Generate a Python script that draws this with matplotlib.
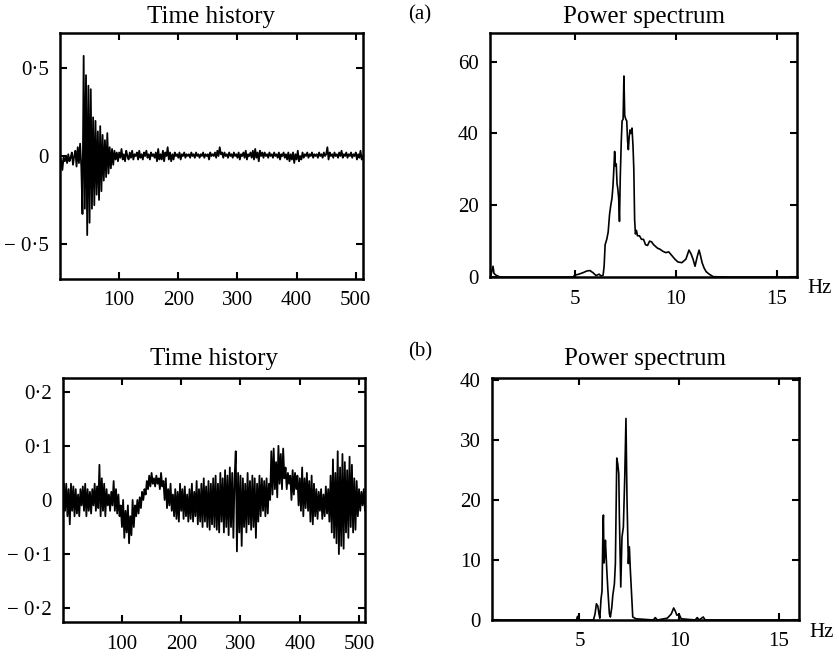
import numpy as np
import matplotlib
matplotlib.use("Agg")
from matplotlib import pyplot as plt

# (a) time history, every second sample of 512
hist_a = [
    -0.02, -0.08, -0.01, -0.03, 0.0, -0.04, 0.01, -0.03, -0.01, 0.02, -0.05, 0.0, 0.03, -0.06, 0.05, -0.04,
    0.07, -0.06, -0.33, 0.57, -0.30, 0.46, -0.45, 0.40, -0.38, 0.38, -0.30, 0.22, -0.28, 0.20, -0.22, 0.14,
    -0.25, 0.17, -0.20, 0.12, -0.14, 0.09, -0.12, 0.13, -0.10, 0.05, -0.07, 0.04, -0.05, 0.03, -0.02, 0.02,
    -0.03, 0.02, -0.01, 0.04, -0.02, 0.01, -0.03, 0.03, 0.0, -0.02, 0.02, -0.01, 0.03, -0.02, 0.01, 0.0,
    0.02, -0.02, 0.03, -0.01, 0.01, -0.02, 0.02, 0.0, 0.03, -0.01, 0.01, -0.02, 0.02, 0.0, 0.01, -0.01,
    0.02, -0.03, 0.04, -0.02, 0.01, -0.02, 0.03, -0.03, 0.02, 0.0, 0.05, -0.02, 0.02, -0.03, 0.01, -0.02,
    0.02, 0.0, 0.01, -0.01, 0.02, -0.02, 0.01, 0.0, 0.02, -0.01, 0.01, 0.0, 0.01, -0.01, 0.02, 0.0,
    0.01, -0.01, 0.02, 0.0, 0.01, -0.01, 0.01, 0.0, 0.02, -0.01, 0.01, 0.0, 0.01, -0.02, 0.02, 0.0,
    0.01, 0.0, 0.02, -0.01, 0.03, 0.0, 0.05, 0.01, 0.02, -0.01, 0.02, 0.0, 0.01, -0.01, 0.02, 0.0,
    0.01, -0.01, 0.02, 0.0, 0.01, -0.01, 0.02, -0.02, 0.01, 0.0, 0.02, -0.01, 0.03, -0.02, 0.01, 0.0,
    0.02, -0.01, 0.03, -0.02, 0.04, -0.01, 0.02, -0.03, 0.03, 0.0, 0.02, -0.01, 0.02, 0.0, 0.01, -0.01,
    0.02, 0.0, 0.01, -0.01, 0.02, 0.0, 0.01, -0.01, 0.02, -0.02, 0.01, 0.0, 0.02, -0.01, 0.01, -0.02,
    0.02, -0.03, 0.01, -0.02, 0.02, -0.04, 0.01, -0.02, 0.03, -0.03, 0.0, -0.02, 0.02, -0.01, 0.01, 0.0,
    0.02, -0.01, 0.01, 0.0, 0.02, -0.01, 0.01, 0.0, 0.01, -0.01, 0.02, 0.0, 0.01, -0.01, 0.02, 0.0,
    0.01, 0.05, -0.02, 0.02, 0.0, 0.01, -0.01, 0.02, 0.0, 0.01, -0.01, 0.02, 0.0, 0.03, -0.01, 0.01,
    0.0, 0.02, -0.01, 0.01, 0.0, 0.02, -0.01, 0.01, 0.0, 0.02, -0.02, 0.01, -0.01, 0.03, -0.02, 0.0,
]

# (b) time history
hist_b = [
    0.03, -0.02, 0.03, -0.03, 0.02, -0.045, 0.03, -0.02, 0.025, -0.03, 0.02, -0.025, 0.01, -0.03, 0.02, -0.01,
    0.025, -0.02, 0.03, -0.03, 0.02, -0.02, 0.015, -0.025, 0.02, -0.01, 0.03, -0.02, 0.025, -0.015, 0.065, -0.03,
    0.04, -0.02, 0.03, -0.03, 0.02, -0.01, 0.01, -0.02, 0.015, -0.01, 0.035, -0.02, 0.02, -0.025, 0.01, -0.03,
    -0.01, -0.05, 0.0, -0.07, -0.02, -0.06, -0.01, -0.08, -0.03, -0.065, 0.0, -0.05, -0.01, -0.03, 0.0, -0.025,
    0.005, -0.015, 0.015, 0.0, 0.02, 0.01, 0.035, 0.02, 0.045, 0.025, 0.05, 0.03, 0.04, 0.025, 0.045, 0.03,
    0.04, 0.02, 0.05, 0.025, 0.035, 0.0, 0.04, -0.015, 0.02, -0.01, 0.03, -0.02, 0.01, -0.03, 0.02, -0.035,
    0.015, -0.04, 0.03, -0.02, 0.02, -0.035, 0.025, -0.03, 0.01, -0.04, 0.02, -0.035, 0.03, -0.04, 0.015, -0.03,
    0.035, -0.045, 0.02, -0.04, 0.03, -0.05, 0.04, -0.04, 0.025, -0.05, 0.035, -0.055, 0.03, -0.045, 0.04, -0.05,
    0.045, -0.055, 0.03, -0.06, 0.05, -0.04, 0.04, -0.06, 0.055, -0.05, 0.045, -0.065, 0.06, -0.05, 0.05, -0.07,
    0.04, 0.09, -0.095, 0.05, -0.06, 0.045, -0.085, 0.04, -0.05, 0.03, -0.06, 0.05, -0.045, 0.035, -0.055, 0.045,
    -0.05, 0.04, -0.07, 0.03, -0.04, 0.045, -0.03, 0.04, -0.02, 0.035, -0.03, 0.04, -0.025, 0.03, 0.0, 0.09,
    0.01, 0.095, 0.02, 0.07, 0.005, 0.1, 0.03, 0.085, 0.02, 0.095, 0.04, 0.06, 0.02, 0.05, 0.03, 0.045,
    0.0, 0.055, 0.01, 0.05, 0.02, 0.045, -0.01, 0.04, -0.02, 0.06, -0.03, 0.04, -0.015, 0.05, -0.02, 0.035,
    -0.04, 0.045, -0.045, 0.03, -0.03, 0.02, -0.035, 0.015, -0.02, 0.02, -0.035, 0.01, -0.03, 0.025, -0.025, 0.02,
    -0.04, 0.045, -0.06, 0.075, -0.07, 0.05, -0.08, 0.09, -0.1, 0.06, -0.085, 0.085, -0.09, 0.07, -0.06, 0.055,
    -0.07, 0.08, -0.05, 0.065, -0.06, 0.04, -0.055, 0.035, -0.03, 0.02, -0.02, 0.015, -0.01, 0.02, -0.02, -0.015,
]
samples = np.arange(1, len(hist_a) + 1) * 2

# (a) power spectrum
freq_a = [0.85, 0.95, 1.0, 1.1, 1.3, 2.0, 3.0, 4.0, 4.9, 5.0, 5.2, 5.4, 5.6, 5.75, 5.9, 6.05,
          6.2, 6.3, 6.4, 6.45, 6.5, 6.58, 6.65, 6.72, 6.78, 6.84, 6.89, 6.93, 6.97, 7.01, 7.05, 7.09,
          7.13, 7.17, 7.21, 7.25, 7.3, 7.34, 7.39, 7.43, 7.47, 7.52, 7.57, 7.61, 7.65, 7.69, 7.73, 7.78,
          7.83, 7.88, 7.92, 7.96, 8.0, 8.05, 8.1, 8.2, 8.3, 8.4, 8.5, 8.6, 8.7, 8.8, 8.9, 9.0,
          9.1, 9.2, 9.35, 9.5, 9.65, 9.8, 9.95, 10.1, 10.3, 10.5, 10.65, 10.75, 10.85, 10.95, 11.05, 11.15,
          11.22, 11.3, 11.4, 11.5, 11.65, 11.85, 12.5, 14.0, 16.0]
power_a = [0.5, 3.0, 1.0, 0.5, 0.0, 0.0, 0.0, 0.0, 0.0, 0.5, 0.8, 1.2, 1.7, 1.8, 1.2, 0.4,
           0.8, 0.3, 0.5, 3.0, 9.0, 10.5, 12.5, 17.5, 20.0, 22.0, 25.5, 30.0, 35.0, 31.0, 31.5, 26.0,
           24.5, 22.0, 15.5, 28.0, 38.0, 43.5, 44.0, 56.0, 45.0, 44.0, 43.5, 38.0, 35.5, 39.0, 41.0, 40.0,
           41.5, 36.5, 30.0, 16.0, 12.0, 13.0, 11.5, 11.5, 10.5, 10.5, 9.0, 8.8, 10.0, 9.8, 9.0, 8.5,
           8.0, 7.8, 7.2, 6.8, 7.0, 6.0, 5.0, 4.2, 4.0, 5.0, 7.5, 6.5, 5.0, 3.0, 5.5, 7.5,
           6.0, 4.0, 2.5, 1.5, 0.8, 0.1, 0.0, 0.0, 0.0]

# (b) power spectrum
freq_b = [0.8, 2.0, 4.0, 4.85, 4.9, 4.95, 5.7, 5.78, 5.85, 5.92, 5.98, 6.02, 6.08, 6.13, 6.18, 6.2,
          6.23, 6.27, 6.3, 6.37, 6.42, 6.5, 6.55, 6.62, 6.67, 6.75, 6.8, 6.87, 6.92, 6.97, 7.0, 7.07,
          7.13, 7.2, 7.27, 7.33, 7.38, 7.45, 7.5, 7.55, 7.62, 7.67, 7.83, 8.7, 8.8, 8.9, 9.4, 9.6,
          9.72, 9.8, 9.88, 10.0, 10.1, 10.8, 10.9, 11.0, 11.2, 11.3, 13.0, 16.0]
power_b = [0.0, 0.0, 0.0, 0.0, 0.6, 0.0, 0.0, 1.0, 2.7, 2.3, 1.0, 0.3, 3.5, 4.8, 16.0, 17.5,
           9.5, 11.0, 13.3, 8.3, 5.2, 1.0, 0.5, 2.1, 4.1, 6.0, 9.4, 27.0, 26.0, 24.4, 17.2, 5.5,
           13.8, 15.5, 23.9, 33.6, 20.5, 9.4, 12.2, 8.3, 3.8, 0.5, 0.2, 0.0, 0.4, 0.0, 0.3, 1.0,
           2.0, 1.5, 0.8, 0.9, 0.2, 0.0, 0.4, 0.0, 0.5, 0.0, 0.0, 0.0]

plt.rcParams['font.family'] = ['Liberation Serif', 'DejaVu Serif']
plt.rcParams['font.size'] = 15


def fmt(v):
    # journal style: middle dot, spaced minus
    s = ("%g" % abs(v)).replace(".", "\u00b7")
    return ("\u2212 " + s) if v < 0 else s


def style_axes(ax, xticks, yticks):
    for sp in ax.spines.values():
        sp.set_linewidth(1.8)
    ax.set_xticks(xticks)
    ax.set_xticklabels([fmt(v) for v in xticks])
    ax.set_yticks(yticks)
    ax.set_yticklabels([fmt(v) for v in yticks])
    ax.tick_params(direction='in', length=5, width=1.5, top=True, right=True)
    ax.tick_params(axis='x', pad=9)
    ax.tick_params(axis='y', pad=8)


fig = plt.figure(figsize=(8.39, 6.56), dpi=100)

ax1 = fig.add_axes([0.0715, 0.5747, 0.361, 0.375])
ax1.plot(samples, hist_a, color='black', lw=1.3)
ax1.set_xlim(0, 512)
ax1.set_ylim(-0.7, 0.7)
style_axes(ax1, [100, 200, 300, 400, 500], [-0.5, 0, 0.5])
ax1.set_title("Time history", pad=7)

ax2 = fig.add_axes([0.584, 0.5777, 0.366, 0.372])
ax2.plot(freq_a, power_a, color='black', lw=1.2)
ax2.set_xlim(0.8, 16)
ax2.set_ylim(0, 68)
style_axes(ax2, [5, 10, 15], [0, 20, 40, 60])
ax2.set_title("Power spectrum", pad=7)
ax2.text(1.035, -0.045, "Hz", transform=ax2.transAxes, ha='left', va='center')

ax3 = fig.add_axes([0.0747, 0.0514, 0.3603, 0.3729])
ax3.plot(samples, hist_b, color='black', lw=1.3)
ax3.set_xlim(0, 510)
ax3.set_ylim(-0.226, 0.226)
style_axes(ax3, [100, 200, 300, 400, 500], [-0.2, -0.1, 0, 0.1, 0.2])
ax3.set_title("Time history", pad=9)

ax4 = fig.add_axes([0.586, 0.0549, 0.3663, 0.3694])
ax4.plot(freq_b, power_b, color='black', lw=1.2)
ax4.set_xlim(0.6, 16)
ax4.set_ylim(0, 40.4)
style_axes(ax4, [5, 10, 15], [0, 10, 20, 30, 40])
ax4.set_title("Power spectrum", pad=9)
ax4.text(1.035, -0.05, "Hz", transform=ax4.transAxes, ha='left', va='center')

fig.text(0.5005, 0.977, "(a)", ha='center', va='center')
fig.text(0.5005, 0.463, "(b)", ha='center', va='center')

plt.savefig("out.png", dpi=100)
